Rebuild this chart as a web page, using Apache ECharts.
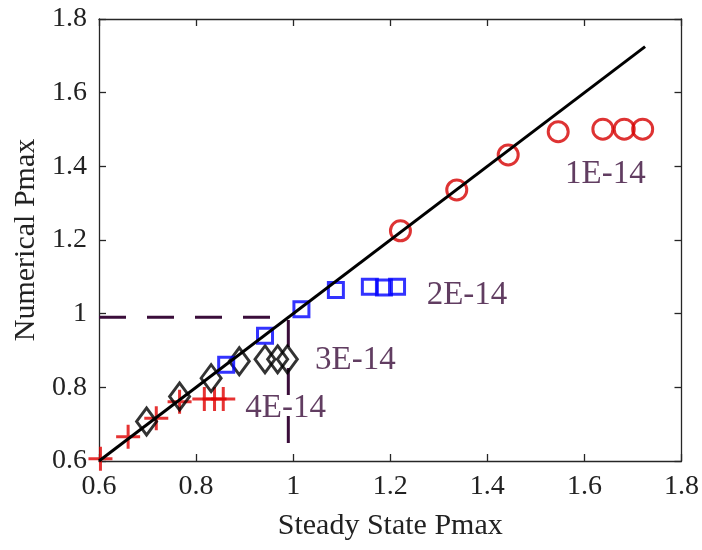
<!DOCTYPE html>
<html><head><meta charset="utf-8">
<script src="https://cdn.jsdelivr.net/npm/echarts@6/dist/echarts.min.js"></script>
<style>html,body{margin:0;padding:0;background:#fff}#c{width:702px;height:550px}</style>
</head><body><div id="c"></div>
<script>
const xTicks = [0.6, 0.8, 1.0, 1.2, 1.4, 1.6, 1.8];
const yTicks = [0.6, 0.8, 1.0, 1.2, 1.4, 1.6, 1.8];
const plus4E14 = [[0.603,0.606],[0.66,0.666],[0.718,0.716],[0.766,0.761],[0.817,0.768],[0.838,0.768],[0.856,0.768]];
const diamond3E14 = [[0.698,0.707],[0.766,0.775],[0.831,0.825],[0.889,0.871],[0.942,0.876],[0.968,0.876],[0.988,0.876]];
const square2E14 = [[0.862,0.861],[0.942,0.940],[1.017,1.012],[1.088,1.064],[1.158,1.073],[1.187,1.071],[1.214,1.073]];
const circle1E14 = [[1.221,1.225],[1.337,1.336],[1.443,1.431],[1.546,1.494],[1.638,1.501],[1.682,1.501],[1.72,1.501]];
const identityLine = [[0.6,0.6],[1.725,1.725]];
const dashedGuide = [[0.6,0.99],[0.99,0.99],[0.99,0.6]];
const labels = [[1.56,1.377,'1E-14'],[1.275,1.051,'2E-14'],[1.045,0.874,'3E-14'],[0.9015,0.744,'4E-14']];

const font = 'Liberation Serif';
const axisCol = '#262626';
const chart = echarts.init(document.getElementById('c'));
const baseAxis = {
  type:'value', min:0.6, max:1.8, interval:0.2,
  axisLine:{show:true, onZero:false, lineStyle:{color:axisCol,width:1.3}},
  axisTick:{show:true, inside:true, length:7, lineStyle:{color:axisCol,width:1.3}},
  splitLine:{show:false}
};
chart.setOption({
  animation:false,
  grid:{left:99, right:18, top:19, bottom:89},
  xAxis:[
    Object.assign({}, baseAxis, {position:'bottom',
      name:'Steady State Pmax', nameLocation:'middle', nameGap:50,
      nameTextStyle:{fontFamily:font, fontSize:30, color:'#222'},
      axisLabel:{fontFamily:font, fontSize:28, color:'#222', margin:12,
        formatter:v=>{const t=xTicks.find(q=>Math.abs(q-v)<1e-6);return t===undefined?'':String(+t.toFixed(1));}}}),
    Object.assign({}, baseAxis, {position:'top', axisLabel:{show:false}})
  ],
  yAxis:[
    Object.assign({}, baseAxis, {position:'left',
      name:'Numerical Pmax', nameLocation:'middle', nameGap:52,
      nameTextStyle:{fontFamily:font, fontSize:30, color:'#222'},
      axisLabel:{fontFamily:font, fontSize:28, color:'#222', margin:12,
        formatter:v=>{const t=yTicks.find(q=>Math.abs(q-v)<1e-6);return t===undefined?'':String(+t.toFixed(1));}}}),
    Object.assign({}, baseAxis, {position:'right', axisLabel:{show:false}})
  ],
  series:[
    {type:'line', data:dashedGuide, symbol:'none', z:2,
      lineStyle:{color:'#3a0d3a', width:3, type:[27,21]}},
    {type:'scatter', data:plus4E14, z:3, symbol:'path://M0,10L20,10M10,0L10,20', symbolSize:24,
      itemStyle:{color:'none', borderColor:'#e00000', borderWidth:3}},
    {type:'scatter', data:diamond3E14, z:3, symbol:'diamond', symbolSize:[20,27],
      itemStyle:{color:'none', borderColor:'#000', borderWidth:3}},
    {type:'scatter', data:square2E14, z:3, symbol:'rect', symbolSize:15,
      itemStyle:{color:'none', borderColor:'#0000ff', borderWidth:3}},
    {type:'scatter', data:circle1E14, z:3, symbol:'circle', symbolSize:20,
      itemStyle:{color:'none', borderColor:'#d60000', borderWidth:3}},
    {type:'line', data:identityLine, symbol:'none', z:4,
      lineStyle:{color:'#000', width:3}},
    {type:'scatter', data:labels, symbolSize:0, z:5,
      label:{show:true, position:'inside', align:'left', verticalAlign:'middle',
        fontFamily:font, fontSize:33, color:'#3a0d3a', formatter:p=>p.value[2]}}
  ]
});
</script></body></html>
